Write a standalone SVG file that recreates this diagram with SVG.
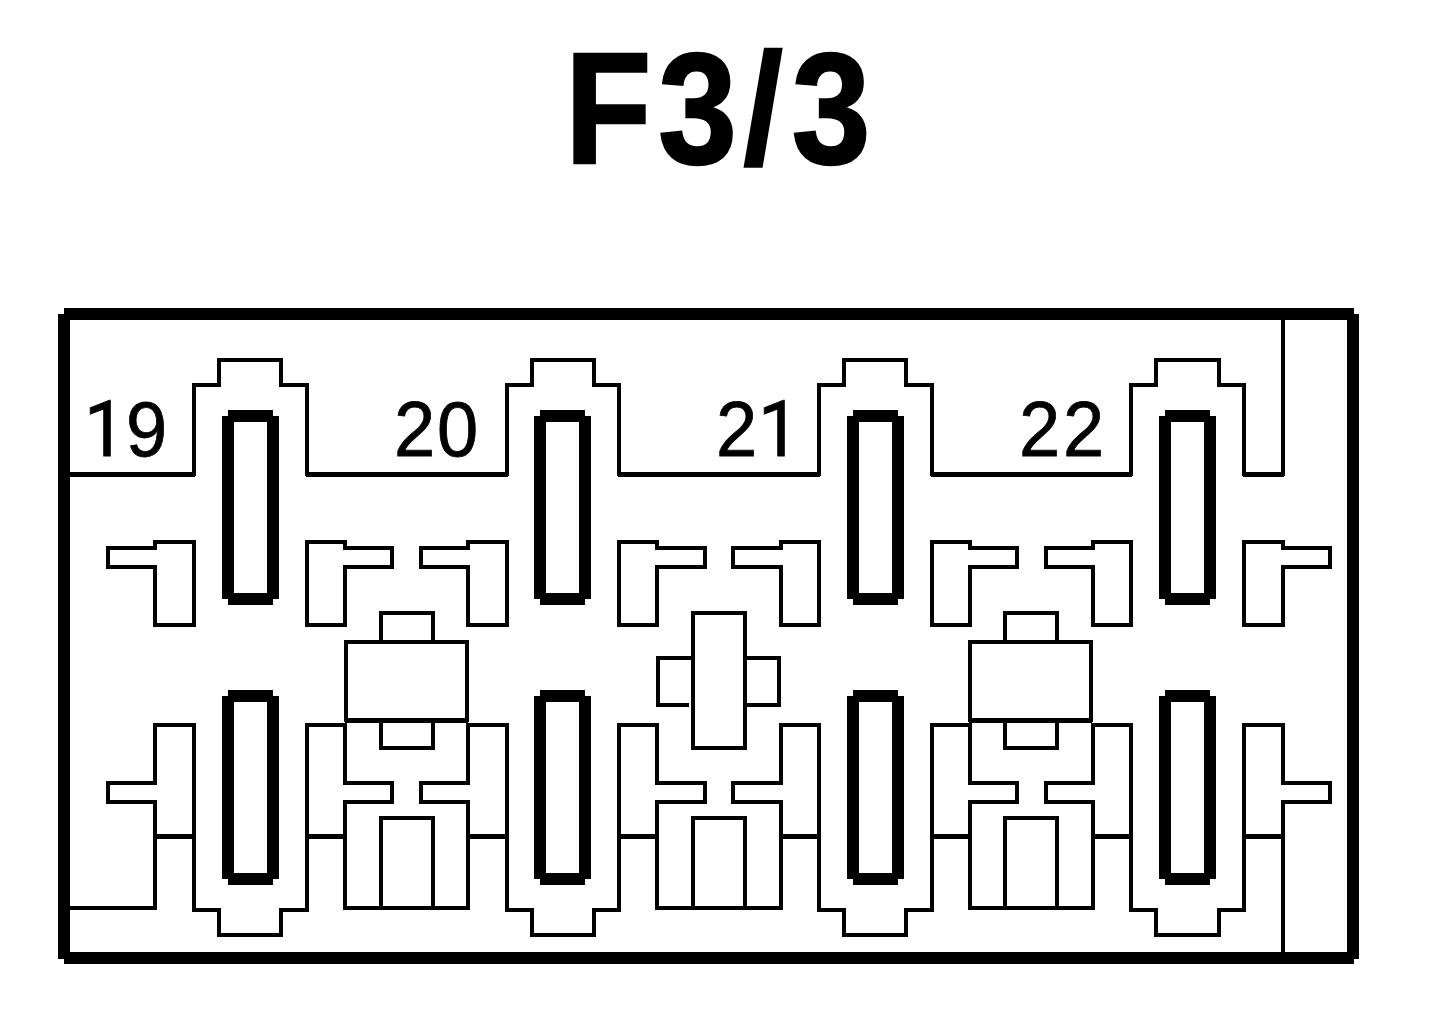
<svg xmlns="http://www.w3.org/2000/svg" width="1456" height="1016" viewBox="0 0 1456 1016">
<style>
.l{fill:none;stroke:#000;stroke-width:4.500;stroke-linejoin:round;stroke-linecap:butt;shape-rendering:crispEdges}
.f{fill:none;stroke:#000;stroke-width:12;stroke-linecap:butt;shape-rendering:crispEdges}
.pin{fill:#000;fill-rule:evenodd;stroke:none;shape-rendering:crispEdges}
.n{font-family:"Liberation Sans",Arial,sans-serif;font-size:78px;fill:#000;stroke:#000;stroke-width:.8px}
.one{font-family:Roboto,"Liberation Sans",sans-serif}
.t{font-family:"Liberation Sans",Arial,sans-serif;font-size:157px;font-weight:bold;fill:#000;stroke:#000;stroke-width:2.500px}
</style>
<defs>
<path id="p" class="pin" d="M228,410H273V416H279V599H273V605H228V599H222V416H228ZM234,422V593H267V422Z"/>
</defs>
<rect width="1456" height="1016" fill="#fff"/>
<text id="title" class="t" transform="translate(565,163) scale(.9,1)" x="0 103.700 198.200 251.900" y="0">F3/3</text>
<g id="frame">
<path class="f" d="M64,314H1354M64,958H1354M64,314V959M1353,314V959"/>
</g>
<g id="housing">
<path class="l" d="M70,474.500H194V385H219V360H281V385H307V474.500H507V385H532V360H594V385H619V474.500H819V385H844V360H906V385H932V474.500H1131V385H1156V360H1219V385H1244V474.500H1283V318"/>
<path class="l" d="M70,908H155V802H108V783H155V725H194V910H219V935H281V910H307V725H345V783H392V802H345V908H468V802H421V783H468V725H507V910H532V935H594V910H619V725H657V783H705V802H657V908H781V802H733V783H781V725H819V910H844V935H906V910H932V725H970V783H1017V802H970V908H1093V802H1046V783H1093V725H1131V910H1156V935H1219V910H1244V725H1283V783H1330V802H1283V954"/>
<path class="l" d="M155,836.500H194M307,836.500H345M468,836.500H507M619,836.500H657M781,836.500H819M932,836.500H970M1093,836.500H1131M1244,836.500H1283"/>
</g>
<g id="upper-tabs">
<path class="l" d="M155,542H194V625H155V567H108V548H155Z"/>
<path class="l" d="M307,542H345V548H392V567H345V625H307Z"/>
<path class="l" d="M468,542H507V625H468V567H421V548H468Z"/>
<path class="l" d="M619,542H657V548H705V567H657V625H619Z"/>
<path class="l" d="M781,542H819V625H781V567H733V548H781Z"/>
<path class="l" d="M932,542H970V548H1017V567H970V625H932Z"/>
<path class="l" d="M1093,542H1131V625H1093V567H1046V548H1093Z"/>
<path class="l" d="M1244,542H1283V548H1330V567H1283V625H1244Z"/>
</g>
<g id="pins">
<use href="#p"/>
<use href="#p" x="312"/>
<use href="#p" x="625"/>
<use href="#p" x="937"/>
<use href="#p" y="280"/>
<use href="#p" x="312" y="280"/>
<use href="#p" x="625" y="280"/>
<use href="#p" x="937" y="280"/>
</g>
<g id="relay-20">
<path class="l" d="M346,642H467V720.500H346Z"/>
<path class="l" d="M381,642V613H433V642M381,720V748H433V720"/>
<path class="l" d="M381,908V818H433V908"/>
</g>
<g id="relay-21">
<rect class="l" x="693" y="613" width="52" height="135"/>
<path class="l" d="M689,705H658V658H693M745,658H779V705H745"/>
<path class="l" d="M693,908V818H745V908"/>
</g>
<g id="relay-22">
<path class="l" d="M970,642H1091V720.500H970Z"/>
<path class="l" d="M1005,642V613H1057V642M1005,720V748H1057V720"/>
<path class="l" d="M1005,908V818H1057V908"/>
</g>
<g id="labels">
<text class="n" transform="translate(84,456) scale(.95,1)"><tspan class="one" x="0">1</tspan><tspan x="44.200">9</tspan></text>
<text class="n" transform="translate(394,456) scale(.95,1)" x="0 45.300">20</text>
<text class="n" transform="translate(716,456) scale(.95,1)"><tspan x="0">2</tspan><tspan class="one" x="44.200">1</tspan></text>
<text class="n" transform="translate(1019,456) scale(.95,1)" x="0 46.300">22</text>
</g>
</svg>
